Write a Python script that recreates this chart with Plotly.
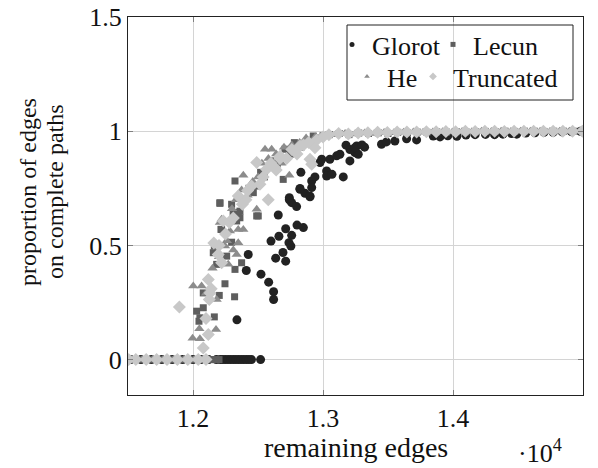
import plotly.graph_objects as go

# ---------------- data (remaining edges, proportion) ----------------
glorot_x = [11520, 11600, 11680, 11760, 11840, 11920, 12000, 12060, 12120, 12180, 12210, 12230,
            12250, 12270, 12290, 12310, 12330, 12350, 12370, 12390, 12410, 12430, 12450, 12520,
            12338, 12410, 12425, 12523, 12582, 12620, 12620, 12600, 12636, 12661, 12692, 12713,
            12713, 12738, 12753, 12759, 12800, 12849, 12656, 12741, 12759, 12797, 12823, 12861,
            12900, 12830, 12913, 12938, 12977, 12990, 13028, 13028, 13069, 13156, 13053, 13105,
            13130, 13207, 13207, 13246, 13259, 13271, 13246, 13177, 13300, 13320, 13450, 13488,
            13553, 13643, 13720, 13848, 12913, 12741, 12823, 12900,
            13900, 13960, 14030, 14100, 14170, 14250, 14320, 14384, 14450, 14490, 14560, 14630,
            14700, 14770, 14840, 14910, 14980]
glorot_y = [0, 0, 0, 0, 0, 0, 0, 0, 0, 0, 0, 0,
            0, 0, 0, 0, 0, 0, 0, 0, 0, 0, 0, 0,
            0.174, 0.39, 0.46, 0.374, 0.339, 0.297, 0.263, 0.519, 0.444, 0.54, 0.469, 0.431,
            0.573, 0.512, 0.497, 0.544, 0.589, 0.578, 0.633, 0.70, 0.687, 0.67, 0.746, 0.728,
            0.713, 0.82, 0.782, 0.80, 0.863, 0.877, 0.826, 0.804, 0.811, 0.80, 0.877, 0.892,
            0.899, 0.87, 0.92, 0.906, 0.935, 0.899, 0.928, 0.939, 0.94, 0.93, 0.943, 0.953,
            0.957, 0.967, 0.962, 0.979, 0.753, 0.709, 0.749, 0.716,
            0.975, 0.98, 0.978, 0.983, 0.985, 0.986, 0.985, 0.987, 0.99, 0.987, 0.992, 0.993,
            0.995, 0.995, 0.997, 0.998, 1.0]

lecun_x = [11510, 11590, 11670, 11750, 11830, 11910, 11990, 12060, 12110, 12140, 12170, 12200,
           12323, 12207, 12310, 12348, 12361, 12215, 12490, 12464, 12164, 12156, 12182, 12259,
           12297, 12323, 12374, 12079, 12028, 12053, 12046, 12164, 12202, 12246, 12320, 12079,
           12707, 12925, 12617, 12694, 12207, 12297, 12361, 12451, 12502, 12310, 12336, 12220,
           12550, 12600, 12650, 12750, 12780, 12830, 12880, 12960, 13000, 12480, 12520, 12400, 12430,
           13050, 13125, 13200, 13275, 13350, 13425, 13500, 13575, 13650, 13725, 13800, 13875,
           13950, 14025, 14100, 14175, 14250, 14325, 14400, 14475, 14550, 14625, 14700, 14775,
           14850, 14925, 15000]
lecun_y = [0, 0, 0, 0, 0, 0, 0, 0, 0, 0, 0, 0,
           0.782, 0.684, 0.643, 0.643, 0.621, 0.57, 0.629, 0.731, 0.497, 0.468, 0.417, 0.453,
           0.514, 0.395, 0.424, 0.292, 0.212, 0.183, 0.168, 0.187, 0.281, 0.332, 0.275, 0.227,
           0.921, 0.979, 0.841, 0.789, 0.687, 0.68, 0.65, 0.738, 0.629, 0.636, 0.607, 0.57,
           0.80, 0.87, 0.86, 0.90, 0.95, 0.93, 0.96, 0.97, 0.98, 0.76, 0.82, 0.70, 0.75,
           0.985, 0.99, 0.985, 0.992, 0.99, 0.993, 0.99, 0.995, 0.993, 0.996, 0.995, 0.997,
           0.996, 0.998, 0.997, 0.998, 0.999, 0.998, 1.0, 0.999, 1.0, 1.0, 0.999, 1.0,
           1.0, 1.0, 1.0]

he_x = [11530, 11610, 11690, 11770, 11850, 11930, 12010, 12080,
        12554, 12605, 12387, 12374, 12207, 12284, 12348, 12387, 12246, 12348, 12336, 12271,
        12002, 12066, 12182, 12049, 12177, 11997, 12053, 12741, 12100, 12220, 12300, 12330,
        12420, 12460, 12500, 12530, 12580, 12640, 12680, 12700, 12760, 12820, 12870, 12940,
        12260, 12310, 12150, 12200, 12490,
        13020, 13095, 13170, 13245, 13320, 13395, 13470, 13545, 13620, 13695, 13770, 13845,
        13920, 13995, 14070, 14145, 14220, 14295, 14370, 14445, 14520, 14595, 14670, 14745,
        14820, 14895, 14970]
he_y = [0, 0, 0, 0, 0, 0, 0, 0,
        0.921, 0.921, 0.807, 0.743, 0.60, 0.563, 0.57, 0.57, 0.497, 0.512, 0.46, 0.417,
        0.322, 0.322, 0.263, 0.135, 0.132, 0.094, 0.091, 0.807, 0.29, 0.614, 0.66, 0.70,
        0.72, 0.78, 0.80, 0.86, 0.88, 0.90, 0.86, 0.93, 0.94, 0.95, 0.97, 0.975,
        0.52, 0.48, 0.40, 0.45, 0.658,
        0.98, 0.985, 0.99, 0.988, 0.992, 0.99, 0.994, 0.993, 0.995, 0.996, 0.995, 0.997,
        0.998, 0.997, 0.999, 0.998, 1.0, 0.999, 1.0, 0.999, 1.0, 1.0, 1.0, 0.999,
        1.0, 1.0, 1.0]

trunc_x = [11505, 11560, 11640, 11720, 11800, 11880, 11960, 12040, 12100,
           11895, 12490, 12118, 12131, 12125, 12118, 12079, 12233, 12348, 12407, 12515, 12566,
           12579, 12913, 12194, 12220, 12160, 12280, 12310, 12380, 12420, 12450, 12540, 12600,
           12640, 12670, 12720, 12760, 12800, 12850, 12890, 12950, 13000, 12100, 12140, 12250,
           12200, 12900, 12938, 12823, 12669, 12630,
           13045, 13120, 13195, 13270, 13345, 13420, 13495, 13570, 13645, 13720, 13795, 13870,
           13945, 14020, 14095, 14170, 14245, 14320, 14395, 14470, 14545, 14620, 14695, 14770,
           14845, 14920, 14995]
trunc_y = [0, 0, 0, 0, 0, 0, 0, 0, 0,
           0.23, 0.863, 0.351, 0.292, 0.263, 0.11, 0.051, 0.607, 0.716, 0.70, 0.768, 0.833,
           0.70, 0.855, 0.46, 0.424, 0.51, 0.60, 0.62, 0.68, 0.74, 0.76, 0.80, 0.86,
           0.83, 0.89, 0.88, 0.92, 0.90, 0.94, 0.95, 0.96, 0.975, 0.18, 0.31, 0.55,
           0.50, 0.877, 0.928, 0.935, 0.88, 0.84,
           0.985, 0.99, 0.988, 0.992, 0.993, 0.995, 0.994, 0.996, 0.997, 0.996, 0.998, 0.998,
           0.999, 0.998, 1.0, 0.999, 1.0, 1.0, 0.999, 1.0, 1.0, 1.0, 1.0, 1.0,
           1.0, 1.0, 1.0]

series_names = ["Glorot", "Lecun", "He", "Truncated"]
x_tickvals = [12000, 13000, 14000, 15000]
x_ticktext = ["1.2", "1.3", "1.4", "1.5"]
y_tickvals = [0, 0.5, 1, 1.5]
y_ticktext = ["0", "0.5", "1", "1.5"]

FONT = "Liberation Serif"
TXT = "#111111"

styles = [
    dict(symbol="circle", size=9, color="#222222"),
    dict(symbol="square", size=7, color="#5e5e5e"),
    dict(symbol="triangle-up", size=9, color="#8c8c8c"),
    dict(symbol="diamond", size=10, color="#c8c8c8"),
]
xs = [glorot_x, lecun_x, he_x, trunc_x]
ys = [glorot_y, lecun_y, he_y, trunc_y]
legend_ids = ["legend", "legend2", "legend3", "legend4"]

fig = go.Figure()
for name, st, x, y in zip(series_names, styles, xs, ys):
    fig.add_trace(go.Scatter(x=x, y=y, mode="markers", name=name, showlegend=False,
                             marker=dict(symbol=st["symbol"], size=st["size"], color=st["color"],
                                         line=dict(width=0))))
# legend entries (small symbols, as in the reference legend)
for name, st, lid in zip(series_names, styles, legend_ids):
    fig.add_trace(go.Scatter(x=[None], y=[None], mode="markers", name=name, legend=lid,
                             showlegend=True,
                             marker=dict(symbol=st["symbol"], size=5 if st["symbol"] != "diamond" else 6,
                                         color=st["color"], line=dict(width=0))))

L, R, T, B = 128, 15, 17, 73
W, H = 598, 468
pw, ph = W - L - R, H - T - B

def px_x(px):
    return (px - L) / pw

def px_y(py):
    return (H - B - py) / ph

axis_common = dict(showline=True, mirror="ticks", linecolor="#222222", linewidth=1,
                   showgrid=True, gridcolor="#d4d4d4", gridwidth=1, zeroline=False,
                   ticks="inside", ticklen=5, tickcolor="#808080", automargin=False,
                   tickfont=dict(family=FONT, size=26, color=TXT))

def leg(px, py):
    return dict(x=px_x(px), y=px_y(py), xanchor="left", yanchor="top",
                bgcolor="rgba(0,0,0,0)", borderwidth=0, itemwidth=30,
                font=dict(family=FONT, size=26, color=TXT))

fig.update_layout(
    width=W, height=H,
    margin=dict(l=L, r=R, t=T, b=B, autoexpand=False),
    paper_bgcolor="white", plot_bgcolor="white",
    font=dict(family=FONT, size=26, color=TXT),
    xaxis=dict(range=[11500, 15000], tickvals=x_tickvals, ticktext=x_ticktext, **axis_common),
    yaxis=dict(range=[-0.155, 1.5], tickvals=y_tickvals, ticktext=y_ticktext, **axis_common),
    legend=leg(332, 21),
    legend2=leg(433, 21),
    legend3=leg(347, 53),
    legend4=leg(413, 53),
    showlegend=True,
)

# legend frame
fig.add_shape(type="rect", xref="paper", yref="paper",
              x0=px_x(347), x1=px_x(573), y0=px_y(100), y1=px_y(25),
              line=dict(color="#222222", width=1), fillcolor="rgba(0,0,0,0)")

# axis titles
fig.add_annotation(text="remaining edges", xref="paper", yref="paper",
                   x=px_x(356), y=px_y(447), xanchor="center", yanchor="middle",
                   showarrow=False, font=dict(family=FONT, size=28, color=TXT))
fig.add_annotation(text="·10<sup>4</sup>", xref="paper", yref="paper",
                   x=px_x(540), y=px_y(452), xanchor="center", yanchor="middle",
                   showarrow=False, font=dict(family=FONT, size=26, color=TXT))
fig.add_annotation(text="proportion of edges", xref="paper", yref="paper",
                   x=px_x(28), y=px_y(192), xanchor="center", yanchor="middle",
                   textangle=-90, showarrow=False,
                   font=dict(family=FONT, size=24, color=TXT))
fig.add_annotation(text="on complete paths", xref="paper", yref="paper",
                   x=px_x(55), y=px_y(192), xanchor="center", yanchor="middle",
                   textangle=-90, showarrow=False,
                   font=dict(family=FONT, size=24, color=TXT))

fig.write_html("out.html")
